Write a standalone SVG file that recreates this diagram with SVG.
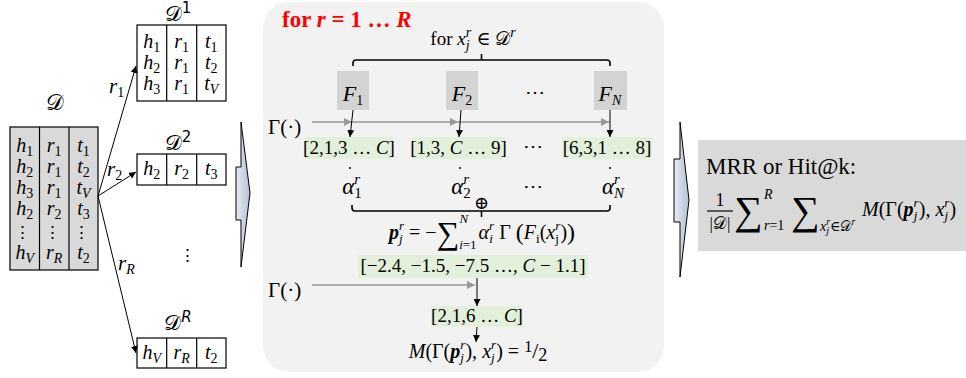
<svg xmlns="http://www.w3.org/2000/svg" width="966" height="378" viewBox="0 0 966 378">
<style>
text{font-family:"Liberation Serif","DejaVu Serif",serif;fill:#000}
.mi{font-style:italic}
.up{font-style:normal}
.scr{font-family:"DejaVu Sans","DejaVu Serif","Liberation Serif",serif;font-style:normal}
.t19{font-size:20px}
.s{font-size:14px;font-style:normal}
.si{font-size:14px;font-style:italic}
.cell{fill:none;stroke:#000;stroke-width:1.2}
.grid{stroke:#000;stroke-width:1.2}
.gbox{fill:#e2efda}
.fbox{fill:#d3d3d3}
.conn{stroke:#000;stroke-width:1;fill:none}
.gconn{stroke:#999;stroke-width:1.3;fill:none}
.brace{stroke:#000;stroke-width:1.6;fill:none}
</style>
<defs>
<marker id="ah" viewBox="0 0 10 10" refX="10" refY="5" markerWidth="7" markerHeight="7" orient="auto" markerUnits="userSpaceOnUse"><path d="M0,0 L10,5 L0,10 z" fill="#000"/></marker>
<marker id="ahg" viewBox="0 0 10 10" refX="10" refY="5" markerWidth="8" markerHeight="8" orient="auto" markerUnits="userSpaceOnUse"><path d="M0,0 L10,5 L0,10 z" fill="#999"/></marker>
<linearGradient id="chev" x1="0" y1="0" x2="1" y2="0">
<stop offset="0" stop-color="#e6ebf3"/><stop offset="1" stop-color="#b4c0d6"/>
</linearGradient>
</defs>

<!-- dataset D -->
<g id="D">
<text class="scr" x="55" y="110" text-anchor="middle" font-size="22">𝒟</text>
<rect x="10" y="127" width="88" height="143" fill="#d9d9d9" stroke="#000" stroke-width="1.2"/>
<line class="grid" x1="39.5" y1="127" x2="39.5" y2="270"/>
<line class="grid" x1="69" y1="127" x2="69" y2="270"/>
<g class="mi t19" text-anchor="middle">
<text x="24.7" y="152">h<tspan class="s" dy="4">1</tspan></text>
<text x="54.2" y="152">r<tspan class="s" dy="4">1</tspan></text>
<text x="83.5" y="152">t<tspan class="s" dy="4">1</tspan></text>
<text x="24.7" y="173">h<tspan class="s" dy="4">2</tspan></text>
<text x="54.2" y="173">r<tspan class="s" dy="4">1</tspan></text>
<text x="83.5" y="173">t<tspan class="s" dy="4">2</tspan></text>
<text x="24.7" y="194">h<tspan class="s" dy="4">3</tspan></text>
<text x="54.2" y="194">r<tspan class="s" dy="4">1</tspan></text>
<text x="83.5" y="194">t<tspan class="si" dy="4">V</tspan></text>
<text x="24.7" y="215">h<tspan class="s" dy="4">2</tspan></text>
<text x="54.2" y="215">r<tspan class="s" dy="4">2</tspan></text>
<text x="83.5" y="215">t<tspan class="s" dy="4">3</tspan></text>
<text class="up" x="22" y="238" font-size="17">⋮</text>
<text class="up" x="52" y="238" font-size="17">⋮</text>
<text class="up" x="81" y="238" font-size="17">⋮</text>
<text x="24.7" y="259">h<tspan class="si" dy="4">V</tspan></text>
<text x="54.2" y="259">r<tspan class="si" dy="4">R</tspan></text>
<text x="83.5" y="259">t<tspan class="s" dy="4">2</tspan></text>
</g>
</g>

<!-- D^1 -->
<g id="D1">
<text class="scr" x="178" y="21" text-anchor="middle" font-size="21">𝒟<tspan class="up" font-size="15" dy="-8">1</tspan></text>
<rect class="cell" x="137" y="25" width="89" height="76"/>
<line class="grid" x1="166.7" y1="25" x2="166.7" y2="101"/>
<line class="grid" x1="196.7" y1="25" x2="196.7" y2="101"/>
<g class="mi t19" text-anchor="middle">
<text x="151.8" y="48">h<tspan class="s" dy="4">1</tspan></text>
<text x="181.7" y="48">r<tspan class="s" dy="4">1</tspan></text>
<text x="211.3" y="48">t<tspan class="s" dy="4">1</tspan></text>
<text x="151.8" y="69">h<tspan class="s" dy="4">2</tspan></text>
<text x="181.7" y="69">r<tspan class="s" dy="4">1</tspan></text>
<text x="211.3" y="69">t<tspan class="s" dy="4">2</tspan></text>
<text x="151.8" y="90">h<tspan class="s" dy="4">3</tspan></text>
<text x="181.7" y="90">r<tspan class="s" dy="4">1</tspan></text>
<text x="211.3" y="90">t<tspan class="si" dy="4">V</tspan></text>
</g>
</g>

<!-- D^2 -->
<g id="D2">
<text class="scr" x="178" y="150" text-anchor="middle" font-size="21">𝒟<tspan class="up" font-size="15" dy="-8">2</tspan></text>
<rect class="cell" x="137" y="154" width="89" height="31"/>
<line class="grid" x1="166.7" y1="154" x2="166.7" y2="185"/>
<line class="grid" x1="196.7" y1="154" x2="196.7" y2="185"/>
<g class="mi t19" text-anchor="middle">
<text x="151.8" y="175">h<tspan class="s" dy="4">2</tspan></text>
<text x="181.7" y="175">r<tspan class="s" dy="4">2</tspan></text>
<text x="211.3" y="175">t<tspan class="s" dy="4">3</tspan></text>
</g>
</g>

<text class="up" x="179" y="261" font-size="17">⋮</text>

<!-- D^R -->
<g id="DR">
<text class="scr" x="178" y="330" text-anchor="middle" font-size="21">𝒟<tspan class="mi" font-size="15" dy="-8">R</tspan></text>
<rect class="cell" x="137" y="338" width="89" height="30"/>
<line class="grid" x1="166.7" y1="338" x2="166.7" y2="368"/>
<line class="grid" x1="196.7" y1="338" x2="196.7" y2="368"/>
<g class="mi t19" text-anchor="middle">
<text x="151.8" y="359">h<tspan class="si" dy="4">V</tspan></text>
<text x="181.7" y="359">r<tspan class="si" dy="4">R</tspan></text>
<text x="211.3" y="359">t<tspan class="s" dy="4">2</tspan></text>
</g>
</g>

<!-- split arrows -->
<g id="connectors">
<line class="conn" x1="98" y1="196" x2="136" y2="66" marker-end="url(#ah)"/>
<line class="conn" x1="98" y1="196" x2="136" y2="172" marker-end="url(#ah)"/>
<line class="conn" x1="98" y1="196" x2="136" y2="353" marker-end="url(#ah)"/>
</g>
<g class="mi" font-size="21">
<text x="109" y="93">r<tspan class="s" dy="4">1</tspan></text>
<text x="107" y="176">r<tspan class="s" dy="4">2</tspan></text>
<text x="118" y="270">r<tspan class="si" dy="4">R</tspan></text>
</g>

<!-- chevron 1 -->
<polygon id="chevron1" points="241,122 250,193 241,267 241,220 236,220 236,167 241,167" fill="url(#chev)" stroke="#000" stroke-width="1"/>

<!-- central panel -->
<g id="panel">
<rect x="263" y="2" width="401" height="370" rx="26" fill="#f2f2f2"/>
<text x="282" y="27" font-size="23" font-weight="bold" style="fill:#ff0000">for <tspan class="mi">r</tspan> = 1 … <tspan class="mi">R</tspan></text>
<text x="473" y="45" text-anchor="middle" font-size="19">for <tspan class="mi">x</tspan><tspan class="mi" font-size="14" dy="-8">r</tspan><tspan class="mi" font-size="14" dx="-5.4" dy="13">j</tspan><tspan dx="2" dy="-5"> ∈ </tspan><tspan class="scr">𝒟</tspan><tspan class="mi" font-size="14" dy="-8">r</tspan></text>
<path class="brace" d="M353,66 L353,63 Q353,60 356,60 L607,60 Q610,60 610,63 L610,66 M481.5,60 L481.5,54"/>
</g>

<g id="F1"><rect class="fbox" x="337" y="71" width="32" height="39"/><text class="mi" x="353" y="101" text-anchor="middle" font-size="22">F<tspan class="s" font-size="15" dy="4">1</tspan></text></g>
<g id="F2"><rect class="fbox" x="446" y="71" width="32" height="39"/><text class="mi" x="462" y="101" text-anchor="middle" font-size="22">F<tspan class="s" font-size="15" dy="4">2</tspan></text></g>
<text class="up" x="535" y="99" text-anchor="middle" font-size="20">⋯</text>
<g id="FN"><rect class="fbox" x="594" y="71" width="33" height="39"/><text class="mi" x="610" y="101" text-anchor="middle" font-size="22">F<tspan class="si" font-size="15" dy="4">N</tspan></text></g>

<text x="268" y="134" font-size="21">Γ(·)</text>

<g id="flow-connectors">
<line class="gconn" x1="312" y1="122" x2="352" y2="122" marker-end="url(#ahg)"/>
<line class="gconn" x1="352" y1="122" x2="458" y2="122" marker-end="url(#ahg)"/>
<line class="gconn" x1="458" y1="122" x2="609" y2="122" marker-end="url(#ahg)"/>
<line class="conn" x1="353" y1="110" x2="350" y2="137" marker-end="url(#ah)"/>
<line class="conn" x1="461" y1="110" x2="459" y2="137" marker-end="url(#ah)"/>
<line class="conn" x1="610" y1="110" x2="610" y2="137" marker-end="url(#ah)"/>
<line class="gconn" x1="312" y1="285" x2="475" y2="285" marker-end="url(#ahg)"/>
<line class="conn" x1="477" y1="278" x2="477" y2="306" marker-end="url(#ah)"/>
<line class="conn" x1="477" y1="327" x2="476" y2="342" marker-end="url(#ah)"/>
</g>

<g id="rank1"><rect class="gbox" x="305" y="137" width="88" height="22"/><text x="349" y="154" text-anchor="middle" font-size="19">[2,1,3 … <tspan class="mi">C</tspan>]</text></g>
<g id="rank2"><rect class="gbox" x="412" y="137" width="93" height="22"/><text x="458.5" y="154" text-anchor="middle" font-size="19">[1,3, <tspan class="mi">C</tspan> … 9]</text></g>
<text class="up" x="533" y="153" text-anchor="middle" font-size="20">⋯</text>
<g id="rankN"><rect class="gbox" x="562" y="137" width="90" height="22"/><text x="607" y="154" text-anchor="middle" font-size="19">[6,3,1 … 8]</text></g>

<circle cx="350" cy="168" r="1" fill="#000"/>
<circle cx="460" cy="168" r="1" fill="#000"/>
<circle cx="610" cy="168" r="1" fill="#000"/>

<g class="mi" font-size="23" text-anchor="middle">
<text x="352" y="194">α<tspan font-size="15" dy="-10">r</tspan><tspan class="up" font-size="15" dx="-5.8" dy="14">1</tspan></text>
<text x="461" y="194">α<tspan font-size="15" dy="-10">r</tspan><tspan class="up" font-size="15" dx="-5.8" dy="14">2</tspan></text>
<text x="613" y="194">α<tspan font-size="15" dy="-10">r</tspan><tspan font-size="15" dx="-5.8" dy="14">N</tspan></text>
</g>
<text class="up" x="533" y="193" text-anchor="middle" font-size="20">⋯</text>

<path class="brace" d="M352,205 L352,208 Q352,211 355,211 L607,211 Q610,211 610,208 L610,205 M481.5,211 L481.5,217"/>
<text class="up" x="481.5" y="209" text-anchor="middle" font-size="18">⊕</text>

<text x="482" y="239" text-anchor="middle" font-size="20"><tspan class="mi" font-weight="bold">p</tspan><tspan class="mi" font-size="13" dy="-9">r</tspan><tspan class="mi" font-size="13" dx="-5" dy="13">j</tspan><tspan dx="1.5" dy="-4"> = −</tspan><tspan font-size="32" dy="5">∑</tspan><tspan class="mi" font-size="13" dy="-21">N</tspan><tspan font-size="13" dx="-9" dy="26"><tspan class="mi">i</tspan>=1</tspan><tspan class="mi" dx="2" dy="-10">α</tspan><tspan class="mi" font-size="13" dy="-9">r</tspan><tspan class="mi" font-size="13" dx="-5" dy="13">i</tspan><tspan dx="1.5" dy="-4"> Γ </tspan><tspan font-size="24" dy="1">(</tspan><tspan class="mi" dy="-1">F</tspan><tspan font-size="13" dy="4">i</tspan><tspan dy="-4">(</tspan><tspan class="mi">x</tspan><tspan class="mi" font-size="13" dy="-9">r</tspan><tspan font-size="13" dx="-5" dy="13">j</tspan><tspan dx="1.5" dy="-4">)</tspan><tspan font-size="24" dy="1">)</tspan></text>

<g id="score"><rect class="gbox" x="358" y="255" width="230" height="23"/><text x="473" y="272" text-anchor="middle" font-size="19">[−2.4, −1.5, −7.5 …, <tspan class="mi">C</tspan> − 1.1]</text></g>

<text x="268" y="297" font-size="21">Γ(·)</text>

<g id="rank"><rect class="gbox" x="431" y="306" width="92" height="21"/><text x="477" y="322" text-anchor="middle" font-size="19">[2,1,6 … <tspan class="mi">C</tspan>]</text></g>

<text x="478" y="358" text-anchor="middle" font-size="20"><tspan class="mi">M</tspan>(Γ(<tspan class="mi" font-weight="bold">p</tspan><tspan class="mi" font-size="13" dy="-9">r</tspan><tspan class="mi" font-size="13" dx="-5" dy="13">j</tspan><tspan dx="1.5" dy="-4">), </tspan><tspan class="mi">x</tspan><tspan class="mi" font-size="13" dy="-9">r</tspan><tspan class="mi" font-size="13" dx="-5" dy="13">j</tspan><tspan dx="1.5" dy="-4">) = </tspan><tspan font-size="16" dy="-6">1</tspan><tspan font-size="22" dy="6">/</tspan><tspan font-size="18" dy="3">2</tspan></text>

<!-- chevron 2 -->
<polygon id="chevron2" points="680,122 689,200 680,277 680,222 674,222 674,159 680,159" fill="url(#chev)" stroke="#000" stroke-width="1"/>

<!-- metric box -->
<g id="metric">
<rect x="698" y="140" width="268" height="111" fill="#d9d9d9"/>
<text x="706" y="174" font-size="23">MRR or Hit@k:</text>
<text x="720" y="206" text-anchor="middle" font-size="18">1</text>
<line x1="707" y1="211" x2="733" y2="211" stroke="#000" stroke-width="1.2"/>
<text x="720" y="229" text-anchor="middle" font-size="17">|<tspan class="scr">𝒟</tspan>|</text>
<text x="734" y="224" font-size="40">∑</text>
<text class="mi" x="764" y="199" font-size="14">R</text>
<text x="764" y="230" font-size="14"><tspan class="mi">r</tspan>=1</text>
<text x="791" y="224" font-size="40">∑</text>
<text x="820" y="231" font-size="14"><tspan class="mi">x</tspan><tspan class="mi" font-size="10" dy="-6">r</tspan><tspan class="mi" font-size="10" dx="-3.9" dy="9">j</tspan><tspan dx="1" dy="-3">∈</tspan><tspan class="scr">𝒟</tspan><tspan class="mi" font-size="10" dy="-6">r</tspan></text>
<text x="862" y="216" font-size="20"><tspan class="mi">M</tspan>(Γ(<tspan class="mi" font-weight="bold">p</tspan><tspan class="mi" font-size="13" dy="-9">r</tspan><tspan class="mi" font-size="13" dx="-5" dy="13">j</tspan><tspan dx="1.5" dy="-4">), </tspan><tspan class="mi">x</tspan><tspan class="mi" font-size="13" dy="-9">r</tspan><tspan class="mi" font-size="13" dx="-5" dy="13">j</tspan><tspan dx="1.5" dy="-4">)</tspan></text>
</g>
</svg>
